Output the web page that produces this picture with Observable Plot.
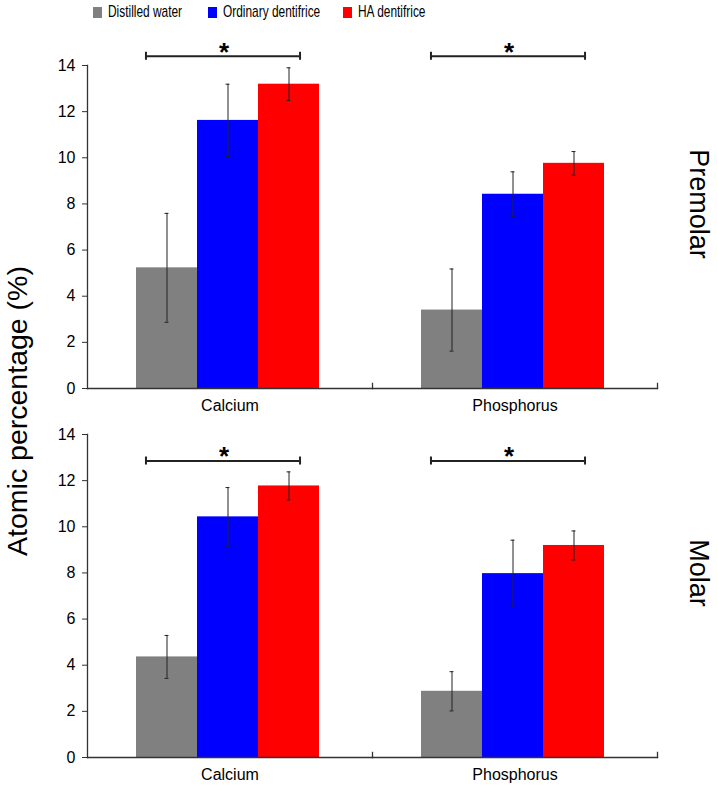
<!DOCTYPE html>
<html>
<head>
<meta charset="utf-8">
<script src="https://cdn.jsdelivr.net/npm/d3@7"></script>
<script src="https://cdn.jsdelivr.net/npm/@observablehq/plot@0.6"></script>
<style>
  html, body { margin: 0; padding: 0; background: #fff; }
  #wrap { position: relative; width: 717px; height: 790px; font-family: "Liberation Sans", Arial, sans-serif; }
  #legend { position: absolute; top: 2px; left: 93px; height: 20px; font-size: 17px; color: #000; }
  #legend .item { position: absolute; top: 0; display: flex; align-items: center; height: 20px; white-space: nowrap; }
  #legend .item:nth-child(1) { left: 0px; }
  #legend .item:nth-child(2) { left: 115px; }
  #legend .item:nth-child(3) { left: 250px; }
  #legend .sw { width: 9px; height: 11px; display: inline-block; margin-right: 6px; }
  #legend .lab { display: inline-block; transform: scaleX(0.7); transform-origin: left center; }
  #ytitle { position: absolute; left: 17px; top: 411px; transform: translate(-50%, -50%) rotate(-90deg);
            white-space: nowrap; font-size: 28.5px; line-height: 1; color: #000; }
  #chart { position: absolute; left: 0; top: 0; }
</style>
</head>
<body>
<div id="wrap">
  <div id="chart"></div>
  <div id="legend"></div>
  <div id="ytitle">Atomic percentage (%)</div>
</div>
<script>
// ---- data ----
const teeth = ["Premolar", "Molar"];
const elements = ["Calcium", "Phosphorus"];
const treatments = ["Distilled water", "Ordinary dentifrice", "HA dentifrice"];
const colors = ["#808080", "#0000ff", "#ff0000"];

const premolarCalcium = [5.23, 11.62, 13.19];
const premolarCalciumErr = [2.36, 1.57, 0.71];
const premolarPhosphorus = [3.40, 8.42, 9.76];
const premolarPhosphorusErr = [1.78, 0.97, 0.51];
const molarCalcium = [4.36, 10.43, 11.77];
const molarCalciumErr = [0.93, 1.27, 0.61];
const molarPhosphorus = [2.87, 7.97, 9.19];
const molarPhosphorusErr = [0.85, 1.45, 0.63];

// significance bracket levels (per element) and marker
const premolarSig = [14.4, 14.4];
const molarSig = [12.85, 12.85];
const sigMark = "*";

const yTicks = [0, 2, 4, 6, 8, 10, 12, 14];

// ---- build tables ----
const series = {
  Premolar: {Calcium: [premolarCalcium, premolarCalciumErr], Phosphorus: [premolarPhosphorus, premolarPhosphorusErr]},
  Molar: {Calcium: [molarCalcium, molarCalciumErr], Phosphorus: [molarPhosphorus, molarPhosphorusErr]}
};
const rows = [];
for (const tooth of teeth) for (const element of elements) {
  const [vals, errs] = series[tooth][element];
  treatments.forEach((t, i) => rows.push({tooth, element, treatment: t, value: vals[i], lo: vals[i] - errs[i], hi: vals[i] + errs[i]}));
}
const cells = [];
for (const tooth of teeth) for (const element of elements) cells.push({tooth, element});
const sigs = [];
teeth.forEach(tooth => elements.forEach((element, i) => sigs.push({tooth, element, level: (tooth === "Premolar" ? premolarSig : molarSig)[i]})));

// ---- layout ----
const W = 717, H = 790, mt = 65, mb = 33, ml = 86, mr = 60;
const fyPad = 0.125;
const facetH = (H - mt - mb) * (1 - fyPad) / (2 - fyPad);
const xPadOuter = 0.8;
const facetW = (W - ml - mr) / 2;
const xStep = facetW / (3 + 2 * xPadOuter);
const bracketL = 10, bracketR = 20;
const capHalf = 4;

const chart = Plot.plot({
  width: W, height: H,
  marginTop: mt, marginBottom: mb, marginLeft: ml, marginRight: mr,
  style: {fontFamily: "'Liberation Sans', Arial, sans-serif", fontSize: "16px", color: "#000", background: "transparent"},
  fx: {domain: elements, padding: 0, axis: null},
  fy: {domain: teeth, paddingInner: fyPad, paddingOuter: 0, axis: null},
  x: {domain: treatments, paddingInner: 0, paddingOuter: xPadOuter, align: 0.48, axis: null},
  y: {domain: [0, 14], axis: null},
  color: {domain: treatments, range: colors},
  marks: [
    Plot.barY(rows, {fx: "element", fy: "tooth", x: "treatment", y: "value", fill: "treatment", inset: 0}),
    Plot.ruleX(rows, {fx: "element", fy: "tooth", x: "treatment", y1: "lo", y2: "hi", stroke: "#222", strokeWidth: 1}),
    Plot.tickY(rows, {fx: "element", fy: "tooth", x: "treatment", y: "lo", stroke: "#222", strokeWidth: 1, insetLeft: xStep / 2 - 2.5, insetRight: xStep / 2 - 2.5}),
    Plot.tickY(rows, {fx: "element", fy: "tooth", x: "treatment", y: "hi", stroke: "#222", strokeWidth: 1, insetLeft: xStep / 2 - 2.5, insetRight: xStep / 2 - 2.5}),
    // frame: baseline, y-axis line, edge ticks
    Plot.frame({anchor: "bottom", stroke: "#333", strokeWidth: 1.3}),
    Plot.frame({anchor: "left", facetAnchor: "left", stroke: "#333", strokeWidth: 1.3}),
    Plot.frame({anchor: "right", stroke: "#333", strokeWidth: 1.3, insetTop: facetH - 5}),
    Plot.axisY({ticks: yTicks, tickSize: 5, tickPadding: 7, fontSize: 16, label: null, stroke: "#333"}),
    // significance brackets
    Plot.ruleY(sigs, {fx: "element", fy: "tooth", y: "level", x1: () => treatments[0], x2: () => treatments[2], insetLeft: bracketL, insetRight: bracketR, stroke: "#222", strokeWidth: 2}),
    Plot.ruleX(sigs, {fx: "element", fy: "tooth", x: () => treatments[0], y1: "level", y2: "level", insetTop: -capHalf, insetBottom: -capHalf, dx: -(xStep / 2 - bracketL), stroke: "#222", strokeWidth: 2}),
    Plot.ruleX(sigs, {fx: "element", fy: "tooth", x: () => treatments[2], y1: "level", y2: "level", insetTop: -capHalf, insetBottom: -capHalf, dx: xStep / 2 - bracketR, stroke: "#222", strokeWidth: 2}),
    Plot.text(sigs, {fx: "element", fy: "tooth", x: () => treatments[1], y: "level", text: () => sigMark, fontSize: 26, fontWeight: "bold", dy: -4, dx: -4}),
    // element labels
    Plot.text(cells, {fx: "element", fy: "tooth", text: "element", frameAnchor: "bottom", dy: 22, fontSize: 16}),
    // tooth labels
    Plot.axisFy({anchor: "right", tickRotate: 90, tickSize: 0, tickPadding: 52, dy: -23, fontSize: 27, label: null})
  ]
});
document.getElementById("chart").appendChild(chart);

// legend
const legend = document.getElementById("legend");
treatments.forEach((t, i) => {
  const item = document.createElement("span");
  item.className = "item";
  const sw = document.createElement("span");
  sw.className = "sw";
  sw.style.background = colors[i];
  const lab = document.createElement("span");
  lab.className = "lab";
  lab.textContent = t;
  item.appendChild(sw); item.appendChild(lab);
  legend.appendChild(item);
});
</script>
</body>
</html>
